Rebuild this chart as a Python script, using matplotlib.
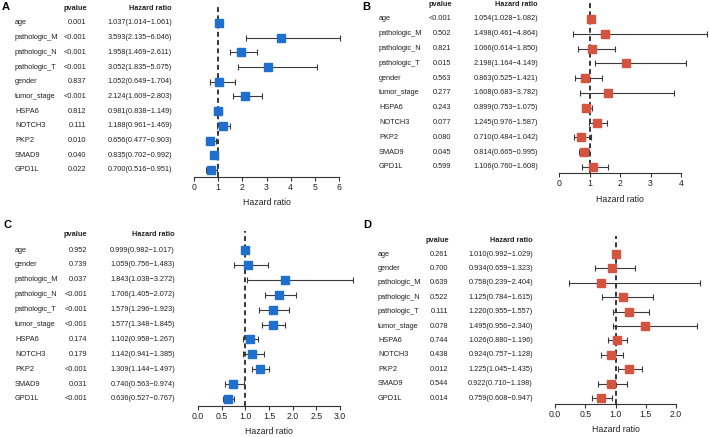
import matplotlib
matplotlib.use("Agg")
import matplotlib.pyplot as plt
import matplotlib.transforms as mtransforms

plt.rcParams['font.family'] = ['Liberation Sans', 'DejaVu Sans']

# ---------------- data ----------------
names_A = ["age", "pathologic_M", "pathologic_N", "pathologic_T", "gender", "tumor_stage",
           "HSPA6", "NOTCH3", "PKP2", "SMAD9", "GPD1L"]
pval_A = ["0.001", "<0.001", "<0.001", "<0.001", "0.837", "<0.001",
          "0.812", "0.111", "0.010", "0.040", "0.022"]
hr_A = [1.037, 3.593, 1.958, 3.052, 1.052, 2.124, 0.981, 1.188, 0.656, 0.835, 0.700]
lo_A = [1.014, 2.135, 1.469, 1.835, 0.649, 1.609, 0.838, 0.961, 0.477, 0.702, 0.516]
hi_A = [1.061, 6.046, 2.611, 5.075, 1.704, 2.803, 1.149, 1.469, 0.903, 0.992, 0.951]
ticks_A = [0, 1, 2, 3, 4, 5, 6]

names_B = names_A
pval_B = ["<0.001", "0.502", "0.821", "0.015", "0.563", "0.277",
          "0.243", "0.077", "0.080", "0.045", "0.599"]
hr_B = [1.054, 1.498, 1.066, 2.198, 0.863, 1.608, 0.899, 1.245, 0.710, 0.814, 1.106]
lo_B = [1.028, 0.461, 0.614, 1.164, 0.525, 0.683, 0.753, 0.976, 0.484, 0.665, 0.760]
hi_B = [1.082, 4.864, 1.850, 4.149, 1.421, 3.782, 1.075, 1.587, 1.042, 0.995, 1.608]
ticks_B = [0, 1, 2, 3, 4]

names_C = ["age", "gender", "pathologic_M", "pathologic_N", "pathologic_T", "tumor_stage",
           "HSPA6", "NOTCH3", "PKP2", "SMAD9", "GPD1L"]
pval_C = ["0.952", "0.739", "0.037", "<0.001", "<0.001", "<0.001",
          "0.174", "0.179", "<0.001", "0.031", "<0.001"]
hr_C = [0.999, 1.059, 1.843, 1.706, 1.579, 1.577, 1.102, 1.142, 1.309, 0.740, 0.636]
lo_C = [0.982, 0.756, 1.038, 1.405, 1.296, 1.348, 0.958, 0.941, 1.144, 0.563, 0.527]
hi_C = [1.017, 1.483, 3.272, 2.072, 1.923, 1.845, 1.267, 1.385, 1.497, 0.974, 0.767]
ticks_C = [0.0, 0.5, 1.0, 1.5, 2.0, 2.5, 3.0]

names_D = names_C
pval_D = ["0.261", "0.700", "0.639", "0.522", "0.111", "0.078",
          "0.744", "0.438", "0.012", "0.544", "0.014"]
hr_D = [1.010, 0.934, 0.758, 1.125, 1.220, 1.495, 1.026, 0.924, 1.225, 0.922, 0.759]
lo_D = [0.992, 0.659, 0.239, 0.784, 0.955, 0.956, 0.880, 0.757, 1.045, 0.710, 0.608]
hi_D = [1.029, 1.323, 2.404, 1.615, 1.557, 2.340, 1.196, 1.128, 1.435, 1.198, 0.947]
ticks_D = [0.0, 0.5, 1.0, 1.5, 2.0]

BLUE = "#1f6fce"
RED = "#d4553f"

W, H = 709, 437
fig = plt.figure(figsize=(W / 100, H / 100), dpi=100)

FS_ROW = 5.3
FS_AX = 6.3


def panel(letter, letter_xy, names, pvals, hr, lo, hi, ticks, tickfmt, color,
          x0px, x1px, row_first, row_last, axis_y, top_y,
          name_x, p_x, hr_x, head_y, phead_x):
    t0, t1 = ticks[0], ticks[-1]
    n = len(names)
    ppr = (row_last - row_first) / (n - 1)
    ylim_bottom = (n - 1) + (axis_y - row_last) / ppr
    ylim_top = 0 - (row_first - top_y) / ppr
    left = x0px / W
    width = (x1px - x0px) / W
    bottom = 1 - axis_y / H
    height = (axis_y - top_y) / H
    ax = fig.add_axes([left, bottom, width, height])
    ax.set_xlim(t0, t1)
    ax.set_ylim(ylim_bottom, ylim_top)
    ys = list(range(n))
    ax.axvline(1, color="black", ls=(0, (3.2, 2.2)), lw=1.1, zorder=1)
    xerr = [[h - l for h, l in zip(hr, lo)], [u - h for h, u in zip(hr, hi)]]
    ax.errorbar(hr, ys, xerr=xerr, fmt="none", ecolor="#3a3a3a", elinewidth=0.8,
                capsize=2.2, capthick=0.8, clip_on=False, zorder=2)
    ax.plot(hr, ys, ls="none", marker="s", ms=5.2, color=color,
            clip_on=False, zorder=3)
    for s in ["top", "right", "left"]:
        ax.spines[s].set_visible(False)
    ax.spines["bottom"].set_linewidth(0.8)
    ax.spines["bottom"].set_color("#333333")
    ax.set_yticks([])
    ax.set_xticks(ticks)
    ax.set_xticklabels([tickfmt.format(t) for t in ticks], fontsize=FS_AX, color="#222222")
    ax.tick_params(axis="x", length=3, width=0.8, pad=1.5, color="#333333")
    ax.set_xlabel("Hazard ratio", fontsize=FS_AX, labelpad=4.5, color="#222222")
    ax.patch.set_visible(False)

    tr = mtransforms.blended_transform_factory(fig.transFigure, ax.transData)
    for i in range(n):
        fig.text(name_x / W, i, names[i], transform=tr, fontsize=FS_ROW,
                 ha="left", va="center", color="#222222")
        fig.text(p_x / W, i, pvals[i], transform=tr, fontsize=FS_ROW,
                 ha="right", va="center", color="#222222")
        txt = "{:.3f}({:.3f}\u2212{:.3f})".format(hr[i], lo[i], hi[i])
        fig.text(hr_x / W, i, txt, transform=tr, fontsize=FS_ROW,
                 ha="right", va="center", color="#222222")
    fig.text(phead_x / W, 1 - head_y / H, "pvalue", fontsize=FS_ROW, fontweight="bold",
             ha="center", va="center", color="#222222")
    fig.text(hr_x / W, 1 - head_y / H, "Hazard ratio", fontsize=FS_ROW, fontweight="bold",
             ha="right", va="center", color="#222222")
    fig.text(letter_xy[0] / W, 1 - letter_xy[1] / H, letter, fontsize=8, fontweight="bold",
             ha="left", va="center", color="black")
    return ax


panel("A", (2, 7), names_A, pval_A, hr_A, lo_A, hi_A, ticks_A, "{:g}", BLUE,
      194, 339, 23, 170, 177, 4, 15, 86, 172, 9, 75)
panel("B", (362, 7), names_B, pval_B, hr_B, lo_B, hi_B, ticks_B, "{:g}", RED,
      559, 681, 19, 167, 173, 3, 379, 451, 538, 5, 440)
panel("C", (3, 225), names_C, pval_C, hr_C, lo_C, hi_C, ticks_C, "{:.1f}", BLUE,
      198, 340, 250, 399, 406, 231, 15, 87, 175, 234, 75)
panel("D", (363, 225), names_D, pval_D, hr_D, lo_D, hi_D, ticks_D, "{:.1f}", RED,
      555, 676, 254, 398, 404, 236, 378, 448, 533, 240, 437)

fig.savefig("out.png", dpi=100)
